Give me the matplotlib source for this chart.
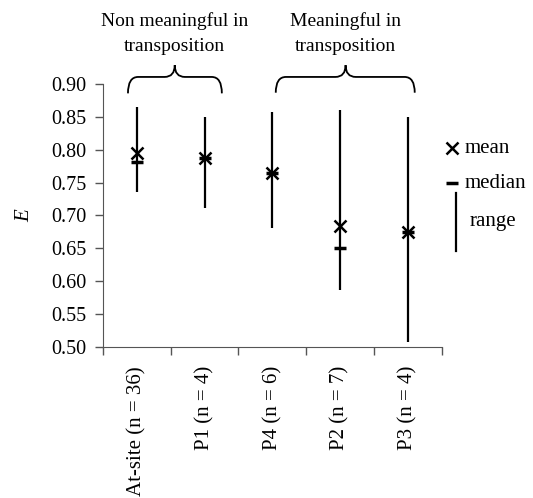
import matplotlib.pyplot as plt
import numpy as np
from matplotlib.path import Path
from matplotlib.patches import PathPatch

plt.rcParams['font.family'] = ['Liberation Serif', 'DejaVu Serif']

# ---------------------------
# Data
# ---------------------------
labels = ["At-site (n = 36)", "P1 (n = 4)", "P4 (n = 6)", "P2 (n = 7)", "P3 (n = 4)"]
e_mean = [0.795, 0.787, 0.765, 0.684, 0.675]
e_median = [0.782, 0.787, 0.765, 0.651, 0.675]
e_min = [0.735, 0.712, 0.681, 0.586, 0.507]
e_max = [0.865, 0.850, 0.858, 0.860, 0.850]
group_names = ["Non meaningful in\ntransposition", "Meaningful in\ntransposition"]


def brace(ax, x0, x1, xm, y0, y1, y2, r=0.15):
    verts = [(x0, y0), (x0, y1), (x0 + r, y1),
             (xm - r, y1), (xm, y1), (xm, y2),
             (xm, y1), (xm + r, y1),
             (x1 - r, y1), (x1, y1), (x1, y0)]
    codes = [Path.MOVETO, Path.CURVE3, Path.CURVE3,
             Path.LINETO, Path.CURVE3, Path.CURVE3,
             Path.CURVE3, Path.CURVE3,
             Path.LINETO, Path.CURVE3, Path.CURVE3]
    p = PathPatch(Path(verts, codes), fill=False, lw=1.3, color='black', clip_on=False)
    ax.add_patch(p)


fig = plt.figure(figsize=(5.33, 4.98), dpi=100)
ax = fig.add_axes([0.193, 0.304, 0.636, 0.527])

x = np.arange(len(labels))

# range lines, medians, means
ax.vlines(x, e_min, e_max, color='black', lw=1.6, clip_on=False)
ax.plot(x, e_median, ls='none', marker='_', ms=8, mew=2.5, color='black', clip_on=False)
ax.plot(x, e_mean, ls='none', marker='x', ms=8.5, mew=1.8, color='black', clip_on=False)

ax.set_xlim(-0.5, 4.5)
ax.set_ylim(0.5, 0.9)
ax.set_yticks(np.arange(0.5, 0.901, 0.05))
ax.set_yticklabels(["%.2f" % v for v in np.arange(0.5, 0.901, 0.05)], fontsize=14.5)
ax.set_xticks(x)
ax.set_xticklabels(labels, rotation=90, fontsize=15)
ax.set_xticks(np.arange(-0.5, 4.6, 1), minor=True)
ax.tick_params(axis='x', which='major', length=0, pad=14)
ax.tick_params(axis='x', which='minor', length=6, direction='out', width=1, color='#555555')
ax.tick_params(axis='y', length=6, width=1, color='#555555', pad=6)
ax.set_ylabel("E", fontstyle='italic', fontsize=15, labelpad=12)

ax.spines['top'].set_visible(False)
ax.spines['right'].set_visible(False)
ax.spines['left'].set_color('#555555')
ax.spines['bottom'].set_color('#555555')

# group braces and labels
brace(ax, -0.13, 1.255, 0.56, 0.886, 0.911, 0.929)
brace(ax, 2.05, 4.10, 3.08, 0.887, 0.911, 0.929)
ax.text(0.56, 0.944, group_names[0], ha='center', va='bottom', fontsize=14, linespacing=1.6)
ax.text(3.08, 0.944, group_names[1], ha='center', va='bottom', fontsize=14, linespacing=1.6)

# hand-made key
ax.plot([1.03], [0.756], marker='x', ms=8, mew=1.8, color='black', transform=ax.transAxes, clip_on=False)
ax.plot([1.03], [0.623], marker='_', ms=8, mew=2.5, color='black', transform=ax.transAxes, clip_on=False)
ax.plot([1.041, 1.041], [0.585, 0.364], lw=1.6, color='black', transform=ax.transAxes, clip_on=False)
ax.text(1.068, 0.756, "mean", va='center', fontsize=15, transform=ax.transAxes)
ax.text(1.068, 0.623, "median", va='center', fontsize=15, transform=ax.transAxes)
ax.text(1.083, 0.475, "range", va='center', fontsize=15, transform=ax.transAxes)

plt.savefig("out.png", dpi=100)
